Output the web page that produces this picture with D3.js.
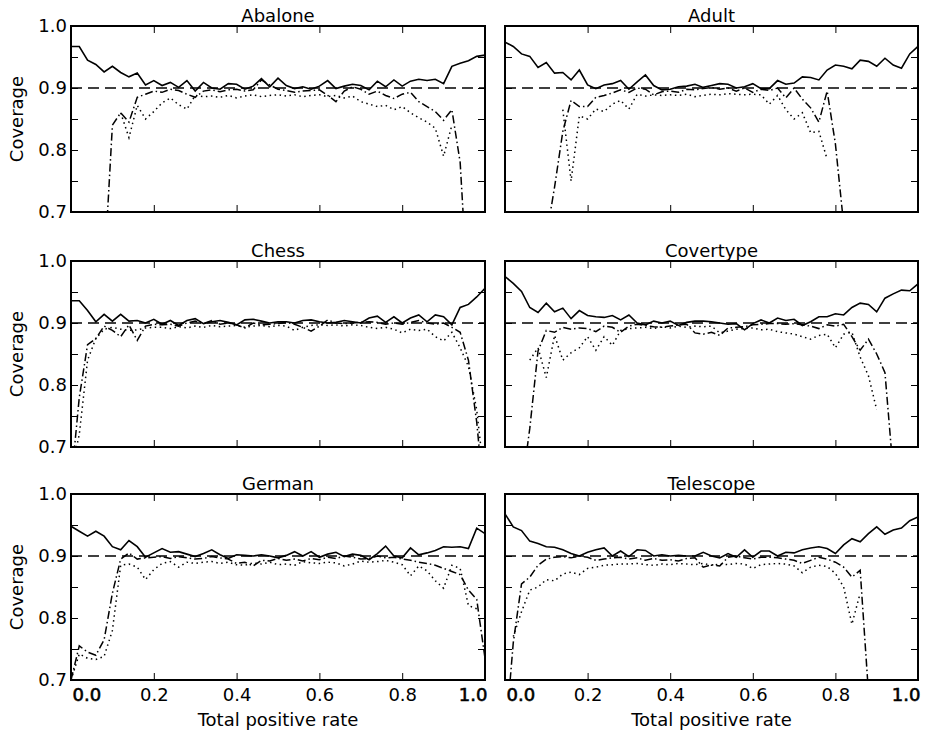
<!DOCTYPE html>
<html>
<head>
<meta charset="utf-8">
<script src="https://cdn.jsdelivr.net/npm/d3@7"></script>
<style>
    body { margin: 0; background: #fff; }
    text { font-family: "DejaVu Sans", sans-serif; fill: #000; }
</style>
</head>
<body>
<svg id="chart" width="927" height="732"></svg>
<script>

// Shared x grid (total positive rate) and ticks
var tpr = [0.00, 0.02, 0.04, 0.06, 0.08, 0.10, 0.12, 0.14, 0.16, 0.18,
    0.20, 0.22, 0.24, 0.26, 0.28, 0.30, 0.32, 0.34, 0.36, 0.38,
    0.40, 0.42, 0.44, 0.46, 0.48, 0.50, 0.52, 0.54, 0.56, 0.58,
    0.60, 0.62, 0.64, 0.66, 0.68, 0.70, 0.72, 0.74, 0.76, 0.78,
    0.80, 0.82, 0.84, 0.86, 0.88, 0.90, 0.92, 0.94, 0.96, 0.98, 1.00];
var xTicks = [0.0, 0.2, 0.4, 0.6, 0.8, 1.0];
var yTicks = [0.7, 0.75, 0.8, 0.85, 0.9, 0.95, 1.0];
var yLabels = [0.7, 0.8, 0.9, 1.0];
var target = 0.9;

var datasets = ["Abalone", "Adult", "Chess", "Covertype", "German", "Telescope"];

var abaloneSolid = [0.967, 0.967, 0.945, 0.938, 0.926, 0.935, 0.925, 0.918, 0.924, 0.905,
    0.912, 0.904, 0.909, 0.901, 0.912, 0.895, 0.909, 0.900, 0.898, 0.907,
    0.906, 0.898, 0.903, 0.915, 0.902, 0.916, 0.904, 0.899, 0.902, 0.898,
    0.903, 0.912, 0.899, 0.903, 0.906, 0.904, 0.897, 0.911, 0.902, 0.913,
    0.903, 0.911, 0.914, 0.912, 0.914, 0.907, 0.935, 0.940, 0.944, 0.951, 0.953];
var abaloneDashDot = [0.45, 0.50, 0.54, 0.57, 0.60, 0.84, 0.86, 0.845, 0.885, 0.89,
    0.895, 0.893, 0.898, 0.896, 0.89, 0.885, 0.895, 0.897, 0.894, 0.897,
    0.898, 0.895, 0.897, 0.913, 0.905, 0.898, 0.896, 0.893, 0.895, 0.896,
    0.897, 0.888, 0.878, 0.895, 0.902, 0.898, 0.89, 0.895, 0.888, 0.883,
    0.89, 0.893, 0.878, 0.87, 0.862, 0.848, 0.865, 0.78, 0.55, 0.50, 0.45];
var abaloneDotted = [null, null, null, null, null, null, 0.86, 0.82, 0.872, 0.85,
    0.862, 0.876, 0.884, 0.873, 0.866, 0.888, 0.886, 0.887, 0.885, 0.888,
    0.884, 0.887, 0.889, 0.886, 0.888, 0.889, 0.887, 0.889, 0.886, 0.888,
    0.889, 0.886, 0.888, 0.884, 0.887, 0.878, 0.874, 0.87, 0.872, 0.865,
    0.87, 0.86, 0.852, 0.845, 0.835, 0.79, 0.84, null, null, null, null];

var adultSolid = [0.974, 0.967, 0.955, 0.951, 0.933, 0.941, 0.924, 0.925, 0.913, 0.929,
    0.905, 0.899, 0.905, 0.907, 0.912, 0.898, 0.91, 0.921, 0.904, 0.897,
    0.898, 0.902, 0.903, 0.906, 0.901, 0.904, 0.907, 0.906, 0.9, 0.902,
    0.907, 0.899, 0.899, 0.912, 0.906, 0.908, 0.918, 0.917, 0.913, 0.929,
    0.937, 0.935, 0.931, 0.945, 0.943, 0.935, 0.948, 0.937, 0.932, 0.955, 0.967];
var adultDashDot = [0.45, 0.5, 0.55, 0.6, 0.64, 0.66, 0.74, 0.83, 0.88, 0.87,
    0.87, 0.885, 0.888, 0.892, 0.897, 0.893, 0.9, 0.898, 0.889, 0.894,
    0.895, 0.893, 0.898, 0.897, 0.899, 0.901, 0.898, 0.9, 0.895, 0.9,
    0.893, 0.898, 0.896, 0.9, 0.884, 0.9, 0.882, 0.868, 0.845, 0.895,
    0.81, 0.68, 0.6, 0.55, 0.5, 0.48, 0.46, 0.45, 0.44, 0.43, 0.42];
var adultDotted = [null, null, null, null, null, null, null, 0.865, 0.75, 0.855,
    0.85, 0.866, 0.862, 0.874, 0.88, 0.866, 0.89, 0.887, 0.889, 0.888,
    0.889, 0.888, 0.89, 0.886, 0.888, 0.89, 0.889, 0.891, 0.89, 0.889,
    0.89, 0.889, 0.874, 0.888, 0.865, 0.85, 0.86, 0.828, 0.83, 0.785,
    null, null, null, null, null, null, null, null, null, null, null];

var chessSolid = [0.936, 0.936, 0.92, 0.902, 0.914, 0.903, 0.914, 0.903, 0.904, 0.9,
    0.906, 0.898, 0.904, 0.896, 0.904, 0.907, 0.899, 0.902, 0.904, 0.901,
    0.897, 0.905, 0.906, 0.903, 0.9, 0.902, 0.902, 0.9, 0.904, 0.905,
    0.902, 0.9, 0.901, 0.904, 0.902, 0.9, 0.908, 0.911, 0.901, 0.91,
    0.9, 0.908, 0.913, 0.902, 0.913, 0.91, 0.897, 0.925, 0.93, 0.942, 0.956];
var chessDashDot = [0.64, 0.78, 0.865, 0.875, 0.895, 0.888, 0.878, 0.897, 0.872, 0.895,
    0.898, 0.897, 0.898, 0.895, 0.9, 0.903, 0.899, 0.904, 0.898, 0.9,
    0.897, 0.892, 0.9, 0.897, 0.898, 0.899, 0.901, 0.898, 0.893, 0.887,
    0.895, 0.905, 0.9, 0.899, 0.9, 0.901, 0.902, 0.901, 0.898, 0.9,
    0.898, 0.901, 0.904, 0.9, 0.898, 0.9, 0.893, 0.885, 0.84, 0.74, 0.6];
var chessDotted = [0.66, 0.72, 0.84, 0.875, 0.89, 0.893, 0.89, 0.888, 0.889, 0.892,
    0.893, 0.893, 0.891, 0.894, 0.892, 0.895, 0.893, 0.896, 0.894, 0.895,
    0.896, 0.893, 0.895, 0.896, 0.894, 0.896, 0.895, 0.888, 0.893, 0.896,
    0.897, 0.896, 0.897, 0.895, 0.897, 0.896, 0.893, 0.891, 0.893, 0.89,
    0.884, 0.89, 0.888, 0.89, 0.878, 0.871, 0.885, 0.86, 0.83, 0.76, 0.64];

var covertypeSolid = [0.975, 0.964, 0.951, 0.925, 0.917, 0.932, 0.918, 0.924, 0.907, 0.92,
    0.912, 0.91, 0.909, 0.912, 0.905, 0.913, 0.9, 0.897, 0.903, 0.9,
    0.903, 0.896, 0.901, 0.903, 0.903, 0.902, 0.9, 0.898, 0.899, 0.889,
    0.899, 0.905, 0.9, 0.908, 0.904, 0.906, 0.896, 0.902, 0.91, 0.91,
    0.915, 0.913, 0.925, 0.932, 0.93, 0.918, 0.94, 0.947, 0.953, 0.952, 0.963];
var covertypeDashDot = [0.5, 0.55, 0.63, 0.73, 0.855, 0.888, 0.885, 0.893, 0.89, 0.892,
    0.891, 0.886, 0.895, 0.893, 0.885, 0.895, 0.898, 0.896, 0.894, 0.893,
    0.895, 0.897, 0.898, 0.884, 0.882, 0.885, 0.88, 0.892, 0.893, 0.894,
    0.897, 0.898, 0.899, 0.899, 0.898, 0.899, 0.897, 0.895, 0.891, 0.897,
    0.895, 0.898, 0.878, 0.856, 0.874, 0.85, 0.82, 0.66, 0.55, 0.5, 0.45];
var covertypeDotted = [null, null, null, 0.84, 0.86, 0.812, 0.88, 0.84, 0.852, 0.86,
    0.878, 0.856, 0.878, 0.864, 0.888, 0.891, 0.892, 0.893, 0.891, 0.894,
    0.892, 0.895, 0.893, 0.895, 0.894, 0.895, 0.884, 0.887, 0.89, 0.891,
    0.892, 0.889, 0.89, 0.886, 0.884, 0.882, 0.878, 0.874, 0.88, 0.882,
    0.86, 0.882, 0.885, 0.845, 0.815, 0.76, null, null, null, null, null];

var germanSolid = [0.948, 0.94, 0.932, 0.94, 0.932, 0.915, 0.91, 0.925, 0.915, 0.898,
    0.905, 0.912, 0.906, 0.907, 0.903, 0.899, 0.904, 0.91, 0.902, 0.896,
    0.902, 0.901, 0.9, 0.902, 0.9, 0.897, 0.901, 0.907, 0.9, 0.907,
    0.898, 0.903, 0.906, 0.899, 0.903, 0.901, 0.894, 0.904, 0.916, 0.9,
    0.897, 0.913, 0.902, 0.905, 0.909, 0.915, 0.914, 0.915, 0.912, 0.945, 0.936];
var germanDashDot = [0.70, 0.755, 0.745, 0.74, 0.765, 0.84, 0.895, 0.905, 0.895, 0.897,
    0.898, 0.899, 0.896, 0.899, 0.897, 0.895, 0.896, 0.899, 0.897, 0.895,
    0.888, 0.89, 0.884, 0.893, 0.892, 0.896, 0.893, 0.895, 0.892, 0.896,
    0.894, 0.898, 0.896, 0.9, 0.898, 0.895, 0.896, 0.9, 0.897, 0.898,
    0.895, 0.893, 0.89, 0.888, 0.885, 0.88, 0.875, 0.87, 0.845, 0.83, 0.735];
var germanDotted = [0.70, 0.742, 0.735, 0.733, 0.738, 0.78, 0.885, 0.887, 0.882, 0.862,
    0.878, 0.888, 0.891, 0.882, 0.89, 0.888, 0.89, 0.891, 0.888, 0.89,
    0.886, 0.885, 0.889, 0.887, 0.89, 0.886, 0.887, 0.885, 0.891, 0.889,
    0.888, 0.89, 0.889, 0.884, 0.887, 0.892, 0.89, 0.891, 0.893, 0.89,
    0.886, 0.868, 0.884, 0.876, 0.86, 0.848, 0.885, 0.88, 0.82, 0.815, null];

var telescopeSolid = [0.968, 0.947, 0.941, 0.924, 0.92, 0.915, 0.914, 0.91, 0.904, 0.9,
    0.906, 0.91, 0.913, 0.9, 0.908, 0.899, 0.91, 0.909, 0.9, 0.902,
    0.9, 0.901, 0.9, 0.9, 0.906, 0.9, 0.897, 0.904, 0.898, 0.91,
    0.898, 0.908, 0.908, 0.9, 0.906, 0.905, 0.91, 0.913, 0.915, 0.912,
    0.904, 0.918, 0.928, 0.923, 0.936, 0.947, 0.935, 0.942, 0.945, 0.957, 0.963];
var telescopeDashDot = [0.6, 0.76, 0.855, 0.866, 0.885, 0.895, 0.898, 0.899, 0.897, 0.9,
    0.898, 0.893, 0.895, 0.897, 0.898, 0.895, 0.897, 0.893, 0.896, 0.893,
    0.894, 0.892, 0.896, 0.897, 0.882, 0.886, 0.884, 0.898, 0.9, 0.897,
    0.895, 0.898, 0.898, 0.897, 0.895, 0.893, 0.888, 0.893, 0.898, 0.895,
    0.89, 0.882, 0.866, 0.877, 0.68, 0.6, 0.55, 0.5, 0.47, 0.45, 0.42];
var telescopeDotted = [null, 0.77, 0.81, 0.845, 0.85, 0.862, 0.86, 0.871, 0.874, 0.87,
    0.88, 0.882, 0.885, 0.886, 0.887, 0.887, 0.888, 0.886, 0.885, 0.887,
    0.886, 0.888, 0.887, 0.886, 0.888, 0.885, 0.887, 0.886, 0.888, 0.887,
    0.88, 0.886, 0.887, 0.888, 0.887, 0.884, 0.873, 0.882, 0.885, 0.883,
    0.872, 0.85, 0.79, 0.84, null, null, null, null, null, null, null];

var solids = [abaloneSolid, adultSolid, chessSolid, covertypeSolid, germanSolid, telescopeSolid];
var dashDots = [abaloneDashDot, adultDashDot, chessDashDot, covertypeDashDot, germanDashDot, telescopeDashDot];
var dotteds = [abaloneDotted, adultDotted, chessDotted, covertypeDotted, germanDotted, telescopeDotted];

// Layout of the 3x2 grid
var colLeft = [71, 505];
var colWidth = [414, 413];
var rowTop = [26, 261, 494];
var rowHeight = 186;
var fontSize = 18;

var svg = d3.select("#chart");
var fmt = d3.format(".1f");

function isLabel(v) {
    return yLabels.some(function (l) { return Math.abs(l - v) < 1e-9; });
}

datasets.forEach(function (name, i) {
    var col = i % 2;
    var row = Math.floor(i / 2);
    var w = colWidth[col];
    var h = rowHeight;

    var x = d3.scaleLinear().domain([0, 1]).range([0, w]);
    var y = d3.scaleLinear().domain([0.7, 1.0]).range([h, 0]);

    var g = svg.append("g")
        .attr("transform", "translate(" + colLeft[col] + "," + rowTop[row] + ")");

    // clip lines to the plot area
    g.append("clipPath")
        .attr("id", "clip" + i)
        .append("rect")
        .attr("width", w)
        .attr("height", h);

    var plot = g.append("g").attr("clip-path", "url(#clip" + i + ")");

    var line = d3.line()
        .defined(function (d) { return d[1] !== null; })
        .x(function (d) { return x(d[0]); })
        .y(function (d) { return y(d[1]); });

    function pairs(values) {
        return tpr.map(function (t, k) { return [t, values[k]]; });
    }

    // target coverage
    plot.append("path")
        .datum([[0, target], [1, target]])
        .attr("d", line)
        .attr("fill", "none")
        .attr("stroke", "#000")
        .attr("stroke-width", 1.5)
        .attr("stroke-dasharray", "11,6");

    plot.append("path")
        .datum(pairs(solids[i]))
        .attr("d", line)
        .attr("fill", "none")
        .attr("stroke", "#000")
        .attr("stroke-width", 1.6);

    plot.append("path")
        .datum(pairs(dashDots[i]))
        .attr("d", line)
        .attr("fill", "none")
        .attr("stroke", "#000")
        .attr("stroke-width", 1.5)
        .attr("stroke-dasharray", "8,3,1.5,3");

    plot.append("path")
        .datum(pairs(dotteds[i]))
        .attr("d", line)
        .attr("fill", "none")
        .attr("stroke", "#000")
        .attr("stroke-width", 1.5)
        .attr("stroke-dasharray", "1.5,3.5");

    // axes with inward ticks on all four sides
    var left = g.append("g")
        .call(d3.axisLeft(y).tickValues(yTicks).tickSize(-7).tickPadding(4)
            .tickFormat(function (d) { return col === 0 && isLabel(d) ? fmt(d) : ""; }));

    var right = g.append("g")
        .attr("transform", "translate(" + w + ",0)")
        .call(d3.axisRight(y).tickValues(yTicks).tickSize(-7).tickFormat(""));

    var top = g.append("g")
        .call(d3.axisTop(x).tickValues(xTicks).tickSize(-7).tickFormat(""));

    var bottom = g.append("g")
        .attr("transform", "translate(0," + h + ")")
        .call(d3.axisBottom(x).tickValues(xTicks).tickSize(-7).tickPadding(8)
            .tickFormat(function (d) { return row === 2 ? fmt(d) : ""; }));

    [left, right, top, bottom].forEach(function (a) {
        a.select(".domain").remove();
        a.selectAll("line").attr("stroke", "#000").attr("stroke-width", 1);
        a.selectAll("text")
            .attr("font-size", fontSize)
            .attr("font-family", "DejaVu Sans, sans-serif")
            .attr("fill", "#000");
    });

    // end labels sit inside the frame and look heavier
    if (row === 2) {
        bottom.selectAll("text")
            .filter(function (d) { return d === 0; })
            .attr("text-anchor", "start")
            .attr("x", 1)
            .attr("stroke", "#000")
            .attr("stroke-width", 0.6);
        bottom.selectAll("text")
            .filter(function (d) { return d === 1; })
            .attr("text-anchor", "end")
            .attr("x", 2)
            .attr("stroke", "#000")
            .attr("stroke-width", 0.6);

        g.append("text")
            .attr("x", w / 2)
            .attr("y", h + 46)
            .attr("text-anchor", "middle")
            .attr("font-size", fontSize)
            .text("Total positive rate");
    }

    // frame
    g.append("rect")
        .attr("width", w)
        .attr("height", h)
        .attr("fill", "none")
        .attr("stroke", "#000")
        .attr("stroke-width", 2);

    // title
    g.append("text")
        .attr("x", w / 2)
        .attr("y", -4)
        .attr("text-anchor", "middle")
        .attr("font-size", fontSize)
        .text(name);

    if (col === 0) {
        g.append("text")
            .attr("transform", "translate(-48," + (h / 2) + ") rotate(-90)")
            .attr("text-anchor", "middle")
            .attr("font-size", fontSize)
            .text("Coverage");
    }
});

</script>
</body>
</html>
